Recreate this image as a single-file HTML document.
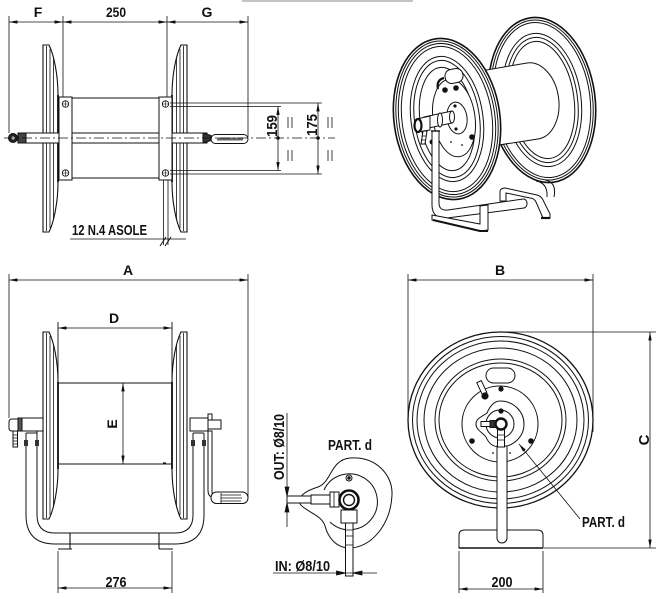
<!DOCTYPE html>
<html><head><meta charset="utf-8"><title>Hose reel drawing</title>
<style>
html,body{margin:0;padding:0;background:#fff}
svg{display:block}
text{font-family:"Liberation Sans Narrow","Liberation Sans",sans-serif;fill:#111;font-weight:bold}
</style></head><body>
<svg width="663" height="599" viewBox="0 0 663 599" xmlns="http://www.w3.org/2000/svg" xmlns:xlink="http://www.w3.org/1999/xlink">
<defs>
<marker id="ar" viewBox="0 0 10 4" refX="10" refY="2" markerWidth="9" markerHeight="3.4" orient="auto-start-reverse" markerUnits="userSpaceOnUse"><path d="M0,0L10,2L0,4z" fill="#111"/></marker>
<g id="discL">
<path d="M43,45 L49,45 C54,55 58,75 58,95 L58,182 C58,202 54,222 49,232 L43,232 Z" fill="#fff" stroke="#111" stroke-width="1.1"/>
<path d="M46.5,46 V231 M50,49 V228 M53.5,57 V220" fill="none" stroke="#111" stroke-width="0.8"/>
<path d="M58,95 V182" stroke="#111" stroke-width="1.8"/>
</g>
</defs>
<rect width="663" height="599" fill="#fff"/>
<line x1="242" y1="1" x2="413" y2="1" stroke="#c4c4c4" stroke-width="2"/>

<!-- ================= TOP-LEFT VIEW ================= -->
<g stroke="#111" fill="none" stroke-width="0.8">
<path d="M9,16V133 M63,16V97 M167,16V97 M248,16V137"/>
<line x1="9" y1="22" x2="63" y2="22" marker-start="url(#ar)" marker-end="url(#ar)"/>
<line x1="63" y1="22" x2="167" y2="22" marker-start="url(#ar)" marker-end="url(#ar)"/>
<line x1="167" y1="22" x2="248" y2="22" marker-start="url(#ar)" marker-end="url(#ar)"/>
</g>
<text x="38" y="17" font-size="14" text-anchor="middle">F</text>
<text x="116" y="17" font-size="14" text-anchor="middle" textLength="20" lengthAdjust="spacingAndGlyphs">250</text>
<text x="207" y="17" font-size="14" text-anchor="middle">G</text>

<use href="#discL" xlink:href="#discL"/>
<use href="#discL" xlink:href="#discL" transform="matrix(-1,0,0,1,230,0)"/>
<g stroke="#111" stroke-width="1">
<rect x="26" y="133" width="181" height="10" fill="#fff"/>
<path d="M72,98H159 M72,178H159" fill="none"/>
<rect x="59" y="97" width="13" height="83" fill="#fff"/>
<rect x="159" y="97" width="13" height="83" fill="#fff"/>
<g fill="#fff" stroke-width="0.9">
<circle cx="65.5" cy="104" r="3.2"/><circle cx="65.5" cy="173" r="3.2"/>
<circle cx="165.5" cy="104" r="3.2"/><circle cx="165.5" cy="173" r="3.2"/>
</g>
<path d="M62,104h7M65.5,100.5v7M62,173h7M65.5,169.5v7M162,104h7M165.5,100.5v7M162,173h7M165.5,169.5v7" stroke-width="0.6"/>
<rect x="18" y="133" width="8" height="10" fill="#444"/>
<circle cx="13" cy="138" r="4.5" fill="#222"/><circle cx="13" cy="138" r="1.5" fill="#fff" stroke="none"/>
<path d="M203,133 L211,135.5 L211,140.5 L203,143 Z" fill="#333"/>
<rect x="211" y="134.5" width="37" height="9" rx="4.5" fill="#fff"/>
<rect x="217" y="137.5" width="26" height="3" fill="#666" stroke="none"/>
</g>
<line x1="4" y1="138" x2="335" y2="138" stroke="#111" stroke-width="0.7" stroke-dasharray="10,3,2,3"/>
<g stroke="#111" stroke-width="0.8" fill="none">
<path d="M170,103H322 M170,106.5H281 M170,170.5H281 M170,174H322"/>
<line x1="278" y1="138" x2="278" y2="106.5" marker-end="url(#ar)"/>
<line x1="278" y1="138" x2="278" y2="170.5" marker-end="url(#ar)"/>
<line x1="318" y1="138" x2="318" y2="103" marker-end="url(#ar)"/>
<line x1="318" y1="138" x2="318" y2="174" marker-end="url(#ar)"/>
<path d="M288,117V128M292,117V128M288,150V161M292,150V161M328,117V128M332,117V128M328,150V161M332,150V161"/>
</g>
<circle cx="278" cy="138" r="1.8" fill="#111"/><circle cx="318" cy="138" r="1.8" fill="#111"/>
<text transform="translate(277,126) rotate(-90)" font-size="15" text-anchor="middle" textLength="22" lengthAdjust="spacingAndGlyphs">159</text>
<text transform="translate(317,125) rotate(-90)" font-size="15" text-anchor="middle" textLength="22" lengthAdjust="spacingAndGlyphs">175</text>
<g stroke="#111" stroke-width="0.8" fill="none">
<path d="M163.5,180V245 M168,180V245 M70,239H186"/>
<path d="M160,246L166,237 M165,246L171,237" stroke-width="1"/>
</g>
<text x="72" y="235" font-size="15" textLength="75" lengthAdjust="spacingAndGlyphs">12 N.4 ASOLE</text>

<!-- ================= TOP-RIGHT 3D VIEW ================= -->
<g stroke="#111" fill="#fff" stroke-width="1">
<g transform="translate(542,100) rotate(-8)">
<ellipse rx="53" ry="83" stroke-width="1.6"/>
<ellipse rx="50.5" ry="80.5" fill="none"/>
<ellipse rx="48" ry="78" fill="none"/>
<ellipse rx="39" ry="67" fill="none"/>
<ellipse rx="35.5" ry="63" fill="none"/>
<ellipse rx="32" ry="59" fill="none"/>
</g>
<path d="M536,181 Q548,183 547,197" fill="none"/>
<path d="M545,180 Q557,182 554,197" fill="none"/>
<path d="M500,201 L500,192 Q500,188 505,188 L537,195 Q541,196 543,200 L550,214 L550,218 L543,218 L536,202 Q534,198 530,198 L506,193 L506,201 Z"/>
<path d="M541,218 L550,218" stroke-width="2.2"/>
<path d="M440,78 L527,63 A26,38 -8 0 1 538,139 L440,154 Z"/>
<g transform="translate(447,119) rotate(-8)">
<ellipse rx="53" ry="81" stroke-width="1.6"/>
<ellipse rx="50.5" ry="78.5" fill="none"/>
<ellipse rx="48" ry="76" fill="none"/>
<ellipse rx="45" ry="73" fill="none"/>
<ellipse rx="36" ry="63" fill="none"/>
<ellipse rx="32.5" ry="59" fill="none"/>
<ellipse rx="27" ry="52" fill="none"/>
</g>
<g transform="translate(454,118) rotate(-8)"><ellipse rx="21" ry="39"/></g>
<g transform="translate(454,76) rotate(-12)"><rect x="-9" y="-7" width="18" height="14" rx="6.5"/></g>
<path d="M444,78 Q436,80 438,89" fill="none" stroke-width="2.2"/>
<g transform="translate(457,118) rotate(-8)"><ellipse rx="10" ry="16"/></g>
<g fill="#111" stroke="none">
<circle cx="445" cy="90" r="2.8"/><circle cx="456" cy="88" r="2.8"/><circle cx="472" cy="137" r="2.8"/>
<circle cx="455" cy="106" r="1.6"/><circle cx="456" cy="129" r="1.6"/>
<circle cx="451" cy="142" r="0.9"/><circle cx="462" cy="145" r="0.9"/>
</g>
<path d="M424,117 L452,111 L452,123 L424,129 Z"/>
<ellipse cx="452" cy="117" rx="2.5" ry="6"/>
<ellipse cx="440" cy="120" rx="2.5" ry="7"/>
<path d="M417,119 L430,116 L430,130 L417,132 Z"/>
<ellipse cx="418" cy="125.5" rx="3.5" ry="6.5" stroke-width="2.2"/>
<path d="M423,131 L427,131 L425,144 L421,144 Z"/>
<path d="M421.5,136h5M421,140h5" fill="none" stroke-width="0.7"/>
<circle cx="432" cy="142" r="2" fill="#111"/>
<path d="M432,131 L432,205 Q432,219 447,218 L524,208 A3.5,4.5 0 0 0 523,199 L448,210 Q439,211 439,203 L439,131 Z"/>
<path d="M431,131 H440" stroke-width="1.4"/>
<path d="M432,215 L480,224 L480,206 L488,205 L488,230 L480,231 L432,220 Z"/>
<path d="M433,220 L480,231 L488,231" fill="none" stroke-width="2"/>
</g>

<!-- ================= BOTTOM-LEFT VIEW ================= -->
<g stroke="#111" fill="none" stroke-width="0.8">
<path d="M9,274V418 M248,274V497"/>
<line x1="9" y1="280" x2="248" y2="280" marker-start="url(#ar)" marker-end="url(#ar)"/>
<line x1="58" y1="328" x2="172" y2="328" marker-start="url(#ar)" marker-end="url(#ar)"/>
</g>
<text x="128" y="275" font-size="14" text-anchor="middle">A</text>
<text x="114" y="323" font-size="14" text-anchor="middle">D</text>
<use href="#discL" xlink:href="#discL" transform="translate(0,287)"/>
<use href="#discL" xlink:href="#discL" transform="matrix(-1,0,0,1,230,287)"/>
<g stroke="#111" fill="none" stroke-width="1">
<path d="M58,322V464 M172,322V464" stroke-width="0.9"/>
<path d="M58,383H172 M58,464H172"/>
<path d="M163,463h3" stroke-width="1.2"/>
</g>
<g stroke="#111" stroke-width="0.8" fill="none">
<line x1="123" y1="383" x2="123" y2="464" marker-start="url(#ar)" marker-end="url(#ar)"/>
</g>
<text transform="translate(117,424) rotate(-90)" font-size="14" text-anchor="middle">E</text>
<g stroke="#111" fill="none" stroke-width="1">
<path d="M26,433 L26,515 Q26,544 55,544 L175,544 Q204,544 204,515 L204,433"/>
<path d="M37,433 L37,515 Q37,533 55,533 L175,533 Q193,533 193,515 L193,433"/>
<path d="M26,433H37 M193,433H204"/>
<path d="M70,533V549 M58,549H72 M159,533V549 M159,549H173" stroke-width="1.1"/>
</g>
<g fill="#333">
<rect x="24" y="440" width="4" height="6"/><rect x="35" y="440" width="4" height="6"/>
<rect x="191" y="440" width="4" height="6"/><rect x="202" y="440" width="4" height="6"/>
</g>
<g stroke="#111" fill="#fff" stroke-width="1">
<rect x="20" y="418" width="23" height="13"/>
<path d="M20,419 L12,419 Q9,419 9,422 L9,428 Q9,431 12,431 L20,431 Z"/>
<rect x="18" y="418" width="4" height="13" fill="#555"/>
<rect x="13" y="431" width="4.5" height="16"/>
<path d="M13,435h4.5M13,438h4.5M13,441h4.5M13,444h4.5" stroke-width="0.8"/>
<path d="M26,431H37V433" fill="none"/>
<rect x="190" y="418" width="18" height="13"/>
<rect x="208" y="420" width="13" height="9"/>
<rect x="208" y="414" width="4" height="6"/>
<path d="M208,431 L208,490 Q208,497 213,497 L212,492 L212,431 Z"/>
<rect x="211" y="492" width="37" height="11.5" rx="5.5"/>
<path d="M221,495H241M221,498H242M221,501H241" stroke-width="0.8" fill="none"/>
<path d="M221,493V503" stroke-width="0.8"/>
</g>
<g stroke="#111" fill="none" stroke-width="0.8">
<path d="M58,551V593 M172,551V593"/>
<line x1="58" y1="588" x2="172" y2="588" marker-start="url(#ar)" marker-end="url(#ar)"/>
</g>
<text x="116" y="587" font-size="15" text-anchor="middle" textLength="21" lengthAdjust="spacingAndGlyphs">276</text>

<!-- ================= BOTTOM-MIDDLE PART. d ================= -->
<g stroke="#111" fill="#fff" stroke-width="1">
<line x1="287" y1="413" x2="287" y2="527" stroke-width="0.8"/>
<path d="M350,458 C376,456 393,475 392,495 C391,521 375,545 352,548 C336,549 328,537 325,526 C322,515 306,512 300,504 C297,497 305,491 318,487 C332,482 330,460 350,458 Z"/>
<path d="M324,490 A28,28 0 1 1 330,522" fill="none"/>
<circle cx="349" cy="478" r="3"/><circle cx="349" cy="478" r="1.2" fill="#111"/>
<rect x="287" y="496" width="24" height="7"/>
<rect x="311" y="495" width="20" height="9"/>
<rect x="330" y="492" width="9" height="15"/>
<path d="M334,492V507" stroke-width="0.8"/>
<circle cx="349" cy="500" r="9.5" stroke-width="2.6"/>
<circle cx="349" cy="500" r="5.5" stroke-width="1.4"/>
<rect x="341" y="510" width="16" height="13"/>
<rect x="345.5" y="523" width="7.5" height="53"/>
<path d="M345.5,530h7.5M345.5,536h7.5M345.5,545h7.5" stroke-width="0.8"/>
</g>
<g stroke="#111" fill="#111" stroke-width="0.8">
<path d="M287,496 l-2,-9 h4 z"/>
<path d="M287,503 l-2,9 h4 z"/>
<line x1="273" y1="573" x2="377" y2="573"/>
<path d="M345.5,573 l-9,-2 v4 z"/>
<path d="M353,573 l9,-2 v4 z"/>
</g>
<text transform="translate(284,447) rotate(-90)" font-size="15" text-anchor="middle" textLength="66" lengthAdjust="spacingAndGlyphs">OUT: Ø8/10</text>
<text x="328" y="450" font-size="15" textLength="44" lengthAdjust="spacingAndGlyphs">PART. d</text>
<text x="275" y="571" font-size="15" textLength="55" lengthAdjust="spacingAndGlyphs">IN: Ø8/10</text>

<!-- ================= BOTTOM-RIGHT VIEW ================= -->
<g stroke="#111" fill="none" stroke-width="0.8">
<path d="M408,274V416 M593,274V432"/>
<line x1="408" y1="280" x2="593" y2="280" marker-start="url(#ar)" marker-end="url(#ar)"/>
<path d="M500,332H656 M544,548H656"/>
<line x1="650" y1="332" x2="650" y2="548" marker-start="url(#ar)" marker-end="url(#ar)"/>
</g>
<text x="500" y="275" font-size="14" text-anchor="middle">B</text>
<text transform="translate(649,440) rotate(-90)" font-size="15" text-anchor="middle">C</text>
<g stroke="#111" fill="none" stroke-width="1">
<ellipse cx="500.5" cy="420" rx="92.5" ry="88" stroke-width="1.3" fill="#fff"/>
<ellipse cx="500.5" cy="420" rx="88" ry="83.5"/>
<ellipse cx="500.5" cy="420" rx="83.5" ry="79"/>
<ellipse cx="500.5" cy="420" rx="76.5" ry="72"/>
<ellipse cx="500.5" cy="420" rx="65.5" ry="61"/>
<ellipse cx="500.5" cy="420" rx="61.5" ry="57"/>
<circle cx="500" cy="424" r="38"/>
<rect x="486" y="368" width="29" height="15" rx="7.5"/>
<path d="M500,401 C514,401 524,412 524,424 C524,437 513,447 500,447 C492,447 488,442 486,437 C482,432 476,430 476,424 C476,418 482,417 487,413 C490,406 494,401 500,401 Z"/>
<circle cx="500" cy="424" r="14"/>
</g>
<g transform="translate(482,388) rotate(-25)"><rect x="-2.5" y="-7" width="5" height="13" fill="#fff" stroke="#111"/></g>
<g fill="#111">
<circle cx="485" cy="396" r="3.6"/><circle cx="501" cy="389" r="2.6"/><circle cx="501" cy="411" r="2.6"/>
<circle cx="472" cy="441" r="2.8"/><circle cx="531" cy="441" r="2.8"/>
<circle cx="493" cy="453" r="0.9"/><circle cx="510" cy="453" r="0.9"/>
</g>
<g stroke="#111" fill="#fff" stroke-width="1">
<path d="M459,548 L459,535 Q459,530 465,530 L537,530 Q543,530 543,535 L543,548 Z"/>
<path d="M459,548H543" stroke-width="1.6"/>
<path d="M497,446 L497,538 A5,5 0 0 0 507,538 L507,446 Z"/>
<rect x="481" y="421.5" width="14" height="5"/>
<rect x="490" y="420.5" width="5" height="7" fill="#333"/>
<rect x="497.5" y="429" width="7" height="18"/>
<path d="M497.5,435h7M497.5,440h7" stroke-width="0.8"/>
<circle cx="501" cy="424" r="5.5" stroke-width="2.4"/>
</g>
<g stroke="#111" fill="none" stroke-width="0.8">
<path d="M459,551V593 M543,551V593"/>
<line x1="459" y1="589" x2="543" y2="589" marker-start="url(#ar)" marker-end="url(#ar)"/>
<line x1="580" y1="519" x2="519" y2="444" marker-end="url(#ar)"/>
</g>
<text x="502" y="587" font-size="15" text-anchor="middle" textLength="21" lengthAdjust="spacingAndGlyphs">200</text>
<text x="582" y="527" font-size="15" textLength="43" lengthAdjust="spacingAndGlyphs">PART. d</text>
</svg>
</body></html>
